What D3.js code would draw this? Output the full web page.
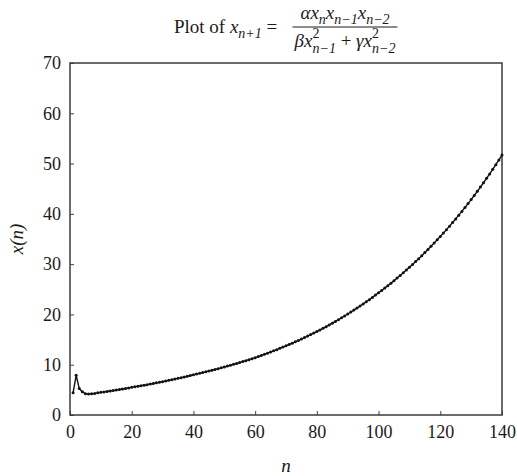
<!DOCTYPE html>
<html>
<head>
<meta charset="utf-8">
<script src="https://cdn.jsdelivr.net/npm/d3@7"></script>
<style>
  body { margin: 0; background: #fff; }
  svg text { font-family: "Liberation Serif", "DejaVu Serif", serif !important; fill: #1a1a1a; }
</style>
</head>
<body>
<svg id="chart" width="517" height="476"></svg>
<script>
const xTicks = [0, 20, 40, 60, 80, 100, 120, 140];
const yTicks = [0, 10, 20, 30, 40, 50, 60, 70];

// x(n) for n = 1 .. 140
const xnValues = [
  4.40, 7.90, 5.25, 4.60, 4.25, 4.20, 4.22, 4.30, 4.40, 4.50,
  4.59, 4.68, 4.78, 4.88, 4.97, 5.07, 5.18, 5.28, 5.39, 5.50,
  5.60, 5.71, 5.82, 5.93, 6.04, 6.16, 6.27, 6.39, 6.51, 6.63,
  6.76, 6.89, 7.02, 7.15, 7.29, 7.42, 7.56, 7.71, 7.85, 8.00,
  8.14, 8.29, 8.44, 8.59, 8.74, 8.90, 9.06, 9.22, 9.38, 9.55,
  9.72, 9.89, 10.07, 10.25, 10.43, 10.62, 10.81, 11.00, 11.20, 11.40,
  11.62, 11.84, 12.06, 12.29, 12.52, 12.76, 13.00, 13.25, 13.50, 13.76,
  14.02, 14.28, 14.55, 14.83, 15.11, 15.40, 15.69, 15.99, 16.29, 16.60,
  16.92, 17.24, 17.57, 17.91, 18.25, 18.60, 18.96, 19.32, 19.69, 20.08,
  20.47, 20.86, 21.26, 21.67, 22.09, 22.51, 22.94, 23.38, 23.84, 24.30,
  24.76, 25.24, 25.72, 26.21, 26.72, 27.23, 27.75, 28.28, 28.82, 29.37,
  29.93, 30.51, 31.09, 31.69, 32.30, 32.91, 33.54, 34.18, 34.83, 35.50,
  36.17, 36.86, 37.56, 38.27, 39.00, 39.74, 40.49, 41.26, 42.04, 42.84,
  43.65, 44.48, 45.32, 46.18, 47.06, 47.95, 48.86, 49.79, 50.73, 51.70
];

const points = xnValues.map((v, i) => ({ n: i + 1, v: v }));

const margin = { top: 63, right: 15, bottom: 61, left: 70 };
const width = 517 - margin.left - margin.right;
const height = 476 - margin.top - margin.bottom;

const svg = d3.select("#chart");
const g = svg.append("g")
  .attr("transform", "translate(" + margin.left + "," + margin.top + ")");

const x = d3.scaleLinear().domain([0, 140]).range([0, width]);
const y = d3.scaleLinear().domain([0, 70]).range([height, 0]);

// tick marks point inwards
const xAxis = g.append("g")
  .attr("transform", "translate(0," + height + ")")
  .call(d3.axisBottom(x).tickValues(xTicks).tickSize(-4).tickPadding(10));
const yAxis = g.append("g")
  .call(d3.axisLeft(y).tickValues(yTicks).tickSize(-4).tickPadding(9));

[xAxis, yAxis].forEach(ax => {
  ax.attr("font-family", null).attr("font-size", null);
  ax.select(".domain").remove();
  ax.selectAll(".tick line").attr("stroke", "#444").attr("stroke-width", 1);
  ax.selectAll(".tick text")
    .style("font-size", "18px")
    .attr("fill", "#1a1a1a");
});

// frame
g.append("rect")
  .attr("x", 0).attr("y", 0)
  .attr("width", width).attr("height", height)
  .attr("fill", "none")
  .attr("stroke", "#3a3a3a")
  .attr("stroke-width", 1.5);

// series
const line = d3.line().x(d => x(d.n)).y(d => y(d.v));
g.append("path")
  .datum(points)
  .attr("fill", "none")
  .attr("stroke", "#111")
  .attr("stroke-width", 1.4)
  .attr("d", line);

g.append("g")
  .selectAll("circle")
  .data(points)
  .enter()
  .append("circle")
  .attr("cx", d => x(d.n))
  .attr("cy", d => y(d.v))
  .attr("r", 1.5)
  .attr("fill", "#111");

// axis titles
svg.append("text")
  .attr("x", margin.left + width / 2)
  .attr("y", 472)
  .attr("text-anchor", "middle")
  .attr("font-size", 19)
  .attr("font-style", "italic")
  .text("n");

svg.append("text")
  .attr("transform", "translate(23," + (margin.top + height / 2) + ") rotate(-90)")
  .attr("text-anchor", "middle")
  .attr("font-size", 19)
  .attr("font-style", "italic")
  .text("x(n)");

// title: run of pieces laid left to right
function run(parent, x0, y0, pieces) {
  const grp = parent.append("g");
  let cx = x0;
  pieces.forEach(p => {
    const t = grp.append("text")
      .attr("x", cx)
      .attr("y", y0 + (p.dy || 0))
      .attr("font-size", p.size || 19)
      .attr("font-style", p.it ? "italic" : "normal")
      .style("white-space", "pre")
      .text(p.t);
    const w = t.node().getComputedTextLength();
    if (!p.stay) cx += w;
  });
  return { grp: grp, w: cx - x0 };
}

const title = svg.append("g");
const head = run(title, 0, 33, [
  { t: "Plot of " },
  { t: "x", it: true },
  { t: "n+1", it: true, size: 14, dy: 5 },
  { t: " = " }
]);
head.grp.attr("transform", "translate(" + (282 - head.w) + ",0)");

const num = run(title, 0, 19, [
  { t: "αx", it: true },
  { t: "n", it: true, size: 14, dy: 5 },
  { t: "x", it: true },
  { t: "n−1", it: true, size: 14, dy: 5 },
  { t: "x", it: true },
  { t: "n−2", it: true, size: 14, dy: 5 }
]);
num.grp.attr("transform", "translate(" + (345 - num.w / 2) + ",0)");

const den = run(title, 0, 47, [
  { t: "βx", it: true },
  { t: "2", size: 14, dy: -9, stay: true },
  { t: "n−1", it: true, size: 14, dy: 6 },
  { t: " + " },
  { t: "γx", it: true },
  { t: "2", size: 14, dy: -9, stay: true },
  { t: "n−2", it: true, size: 14, dy: 6 }
]);
den.grp.attr("transform", "translate(" + (345 - den.w / 2) + ",0)");

title.append("line")
  .attr("x1", 345 - den.w / 2 - 2).attr("x2", 345 + den.w / 2 + 2)
  .attr("y1", 27).attr("y2", 27)
  .attr("stroke", "#1a1a1a").attr("stroke-width", 1);
</script>
</body>
</html>
